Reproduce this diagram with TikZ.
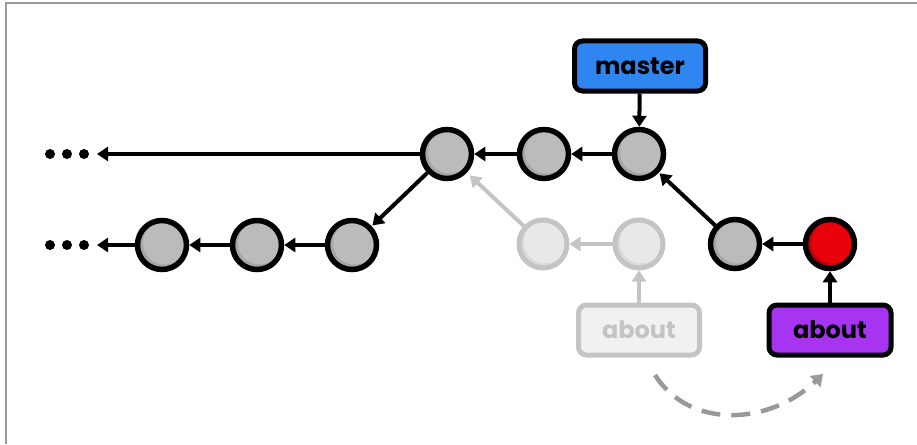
\documentclass[tikz,border=0pt]{standalone}
\usepackage{fontspec}
\setmainfont{Poppins}
\usetikzlibrary{arrows.meta}
\definecolor{commitgray}{HTML}{BBBBBB}
\definecolor{commitshade}{HTML}{A6A6A6}
\definecolor{ghostfill}{HTML}{E8E8E8}
\definecolor{ghostshade}{HTML}{DADADA}
\definecolor{ghostline}{HTML}{C4C4C4}
\definecolor{masterblue}{HTML}{2F86F0}
\definecolor{aboutpurple}{HTML}{A634F0}
\definecolor{headred}{HTML}{E8000A}
\definecolor{headshade}{HTML}{B80008}
\definecolor{framegray}{HTML}{999999}
\definecolor{dashgray}{HTML}{999999}
\tikzset{
  commit/.style={circle, draw=black, line width=5.5pt, minimum size=49pt, inner sep=0pt,
    fill=commitshade,
    path picture={\fill[commitgray] ([xshift=2.5pt,yshift=2pt]path picture bounding box.center) circle (21.5pt);}},
  headcommit/.style={commit, fill=headshade,
    path picture={\fill[headred] ([xshift=2.5pt,yshift=2pt]path picture bounding box.center) circle (21.5pt);}},
  ghostcommit/.style={circle, draw=ghostline, line width=5pt, minimum size=48pt, inner sep=0pt,
    fill=ghostshade,
    path picture={\fill[ghostfill] ([xshift=2.5pt,yshift=2pt]path picture bounding box.center) circle (21.5pt);}},
  dot/.style={circle, fill=black, minimum size=10pt, inner sep=0pt},
  branch/.style={rectangle, rounded corners=8pt, draw=black, line width=5pt,
    minimum width=131pt, minimum height=50pt, inner sep=0pt,
    font=\bfseries\fontsize{24}{28}\selectfont},
  ghostbranch/.style={branch, draw=ghostline, fill=ghostfill!60, text=ghostline, minimum width=121pt},
  link/.style={line width=4pt, -{Triangle[width=14pt,length=11pt]}},
  ghostlink/.style={link, draw=ghostline},
}
\begin{document}
\begin{tikzpicture}[x=1pt,y=-1pt]
\useasboundingbox (0,0) rectangle (917,444);
% frame (top and left edges)
\draw[framegray, line width=2pt] (6,444) -- (6,3) -- (917,3);

% top row
\node[commit] (A) at (447,154) {};
\node[commit] (B) at (544,154) {};
\node[commit] (C) at (639,154) {};
\node[dot] (t1) at (50,154) {};
\node[dot] (t2) at (67,154) {};
\node[dot] (t3) at (84,154) {};
\coordinate (tend) at (97,154);

% bottom row
\node[commit] (D) at (352,245) {};
\node[commit] (E) at (257,245) {};
\node[commit] (F) at (162,245) {};
\node[dot] (b1) at (50,245) {};
\node[dot] (b2) at (67,245) {};
\node[dot] (b3) at (84,245) {};
\coordinate (bend) at (97,245);

% ghost commits
\node[ghostcommit] (G1) at (543,244) {};
\node[ghostcommit] (G2) at (639,244) {};

% new commits
\node[commit] (H) at (735,244) {};
\node[headcommit] (R) at (830,244) {};

% branches
\node[branch, fill=masterblue] (master) at (640,66) {master};
\node[branch, fill=aboutpurple, minimum width=122pt] (about) at (830,330) {about};
\node[ghostbranch] (oldabout) at (639,330) {about};

% links
\draw[link] (A.west) -- (tend);
\draw[link] (B) -- (A);
\draw[link] (C) -- (B);
\draw[link, shorten >=1pt] (A) -- (D);
\draw[link] (D) -- (E);
\draw[link] (E) -- (F);
\draw[link] (F.west) -- (bend);
\draw[link] (R) -- (H);
\draw[link, shorten >=1pt] (H) -- (C);
\draw[link] (master) -- (C);
\draw[link] (about) -- (R);
\draw[ghostlink] (G2) -- (G1);
\draw[ghostlink, shorten >=4pt] (G1) -- (A);
\draw[ghostlink] (oldabout) -- (G2);

% move of the branch
\coordinate (mvstart) at (655,375);
\coordinate (mvend) at (823,374);
\draw[dashgray, line width=4.5pt, dash pattern=on 19pt off 11pt,
  -{Triangle[width=15pt,length=11pt]}]
  (mvstart) .. controls (690,430) and (770,425) .. (mvend);
\end{tikzpicture}
\end{document}
